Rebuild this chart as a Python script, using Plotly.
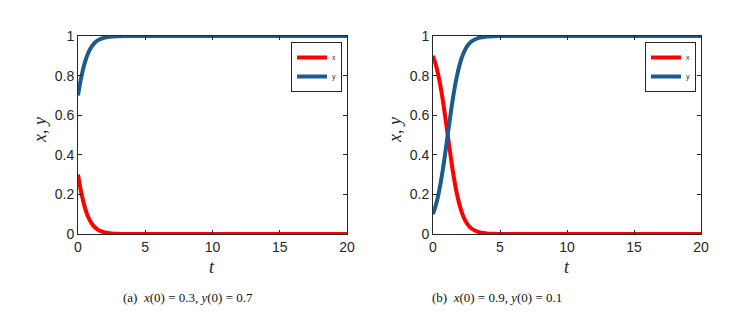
import plotly.graph_objects as go

# time samples
t_a = [0, 0.25, 0.5, 0.75, 1, 1.25, 1.5, 1.75, 2, 2.5, 3, 3.5, 4, 5, 6, 8, 10, 15, 20]
x_a = [0.30, 0.206, 0.136, 0.087, 0.055, 0.034, 0.021, 0.013, 0.008, 0.003, 0.001, 0.0, 0.0, 0.0, 0.0, 0.0, 0.0, 0.0, 0.0]
y_a = [0.70, 0.794, 0.864, 0.913, 0.945, 0.966, 0.979, 0.987, 0.992, 0.997, 0.999, 1.0, 1.0, 1.0, 1.0, 1.0, 1.0, 1.0, 1.0]

t_b = [0, 0.25, 0.5, 0.75, 1, 1.25, 1.5, 1.75, 2, 2.25, 2.5, 2.75, 3, 3.5, 4, 4.5, 5, 6, 8, 10, 15, 20]
x_b = [0.90, 0.845, 0.768, 0.668, 0.549, 0.425, 0.309, 0.214, 0.142, 0.091, 0.057, 0.035, 0.022, 0.008, 0.003, 0.001, 0.0, 0.0, 0.0, 0.0, 0.0, 0.0]
y_b = [0.10, 0.155, 0.232, 0.332, 0.451, 0.575, 0.691, 0.786, 0.858, 0.909, 0.943, 0.965, 0.978, 0.992, 0.997, 0.999, 1.0, 1.0, 1.0, 1.0, 1.0, 1.0]

x_ticks = [0, 5, 10, 15, 20]
y_ticks = [0, 0.2, 0.4, 0.6, 0.8, 1]
y_tick_text = ["0", "0.2", "0.4", "0.6", "0.8", "1"]
captions = ["(a)  <i>x</i>(0) = 0.3, <i>y</i>(0) = 0.7", "(b)  <i>x</i>(0) = 0.9, <i>y</i>(0) = 0.1"]

RED = "#FF0000"
BLUE = "#1D5B8E"
INK = "#262626"

fig = go.Figure()
fig.add_trace(go.Scatter(x=t_a, y=x_a, mode="lines", name="x", line=dict(color=RED, width=4, shape="spline"),
                         xaxis="x", yaxis="y", legend="legend"))
fig.add_trace(go.Scatter(x=t_a, y=y_a, mode="lines", name="y", line=dict(color=BLUE, width=4, shape="spline"),
                         xaxis="x", yaxis="y", legend="legend"))
fig.add_trace(go.Scatter(x=t_b, y=x_b, mode="lines", name="x", line=dict(color=RED, width=4, shape="spline"),
                         xaxis="x2", yaxis="y2", legend="legend2"))
fig.add_trace(go.Scatter(x=t_b, y=y_b, mode="lines", name="y", line=dict(color=BLUE, width=4, shape="spline"),
                         xaxis="x2", yaxis="y2", legend="legend2"))

ax_common = dict(showline=True, linecolor=INK, linewidth=1, mirror="ticks", ticks="inside",
                 ticklen=4, tickcolor=INK, showgrid=False, zeroline=False, automargin=False,
                 tickfont=dict(family="Liberation Sans", size=14, color=INK))
y0, y1 = 1 - 234 / 314, 1 - 36 / 314
y_range = [0, 1]
leg_common = dict(xanchor="right", y=1 - 42 / 314, yanchor="top", bgcolor="white",
                  bordercolor=INK, borderwidth=1, font=dict(family="Liberation Sans", size=7, color=INK),
                  itemwidth=30, tracegroupgap=0)
fig.update_layout(
    template="none",
    width=750, height=314, margin=dict(l=0, r=0, t=0, b=0, pad=0, autoexpand=False),
    paper_bgcolor="white", plot_bgcolor="white",
    xaxis=dict(domain=[78 / 750, 347 / 750], range=[0, 20], tickvals=x_ticks, anchor="y", **ax_common),
    yaxis=dict(domain=[y0, y1], range=y_range, tickvals=y_ticks, ticktext=y_tick_text, anchor="x", **ax_common),
    xaxis2=dict(domain=[433 / 750, 701 / 750], range=[0, 20], tickvals=x_ticks, anchor="y2", **ax_common),
    yaxis2=dict(domain=[y0, y1], range=y_range, tickvals=y_ticks, ticktext=y_tick_text, anchor="x2", **ax_common),
    legend=dict(x=342 / 750, **leg_common),
    legend2=dict(x=696 / 750, **leg_common),
)

ann_font = dict(family="Liberation Serif", size=18, color=INK)
for cx in (40, 395):
    fig.add_annotation(text="<i>x</i>, <i>y</i>", x=cx / 750, y=1 - 130 / 314, xref="paper", yref="paper",
                       xanchor="center", yanchor="middle",
                       showarrow=False, textangle=-90, font=ann_font)
for cx in (212, 567):
    fig.add_annotation(text="<i>t</i>", x=cx / 750, y=1 - 267 / 314, xref="paper", yref="paper",
                       xanchor="center", yanchor="middle",
                       showarrow=False, font=ann_font)
for cx, txt in zip((188, 497), captions):
    fig.add_annotation(text=txt, x=cx / 750, y=1 - 297 / 314, xref="paper", yref="paper",
                       xanchor="center", yanchor="middle",
                       showarrow=False, font=dict(family="Liberation Serif", size=13, color="#111111"))

fig.write_html("out.html", config={"displayModeBar": False},
               post_script="document.body.style.margin='0';document.body.style.overflow='hidden';")
